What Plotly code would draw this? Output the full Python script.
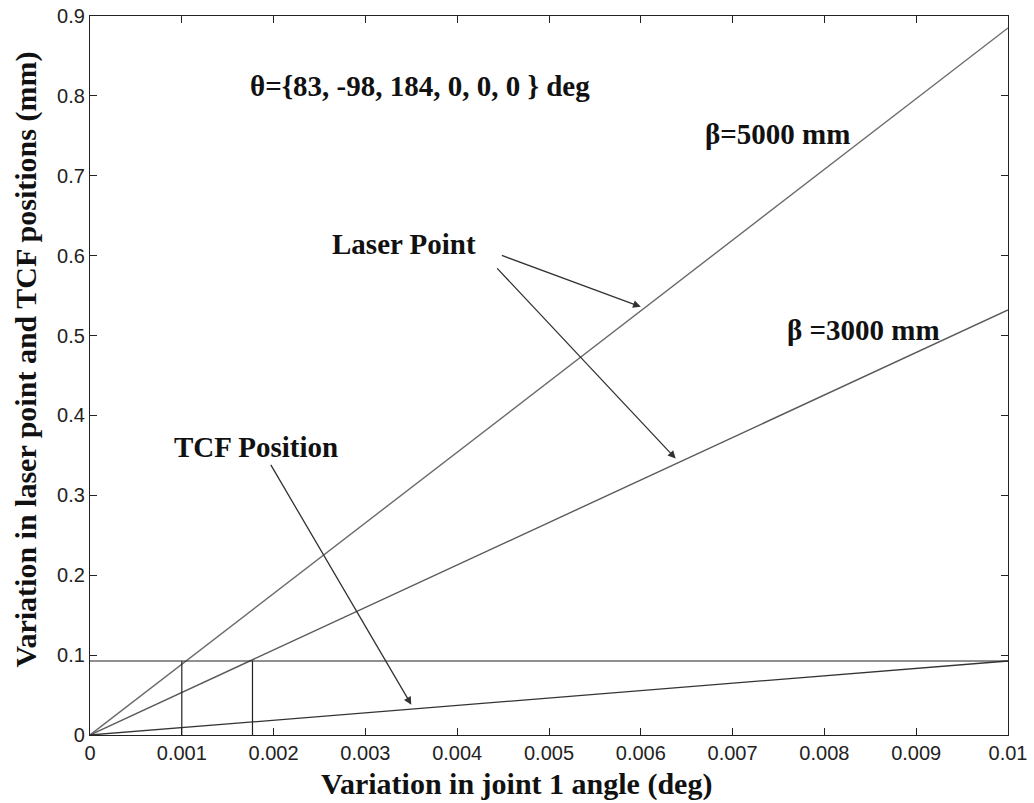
import plotly.graph_objects as go

# ---- data ----
x_ends = [0.0, 0.01]                 # joint-1 angle variation (deg)
laser_beta5000 = [0.0, 0.885]        # mm
laser_beta3000 = [0.0, 0.532]        # mm
tcf_position = [0.0, 0.0926]         # mm

ref_level = 0.0926                   # horizontal reference level (mm)
ref_x_marks = [0.001, 0.00177]       # vertical markers (deg)

x_ticks = [0, 0.001, 0.002, 0.003, 0.004, 0.005, 0.006, 0.007, 0.008, 0.009, 0.01]
x_tick_text = ["0", "0.001", "0.002", "0.003", "0.004", "0.005", "0.006", "0.007", "0.008", "0.009", "0.01"]
y_ticks = [0, 0.1, 0.2, 0.3, 0.4, 0.5, 0.6, 0.7, 0.8, 0.9]
y_tick_text = ["0", "0.1", "0.2", "0.3", "0.4", "0.5", "0.6", "0.7", "0.8", "0.9"]

fig = go.Figure()

fig.add_trace(go.Scatter(x=x_ends, y=laser_beta5000, mode="lines",
                         line=dict(color="#6a6a6a", width=1.4), showlegend=False))
fig.add_trace(go.Scatter(x=x_ends, y=laser_beta3000, mode="lines",
                         line=dict(color="#5a5a5a", width=1.4), showlegend=False))
fig.add_trace(go.Scatter(x=x_ends, y=tcf_position, mode="lines",
                         line=dict(color="#333333", width=1.3), showlegend=False))
# horizontal reference
fig.add_trace(go.Scatter(x=[x_ends[0], x_ends[1]], y=[ref_level, ref_level], mode="lines",
                         line=dict(color="#222222", width=1.2), showlegend=False))
# vertical markers
for xv in ref_x_marks:
    fig.add_trace(go.Scatter(x=[xv, xv], y=[0, ref_level], mode="lines",
                             line=dict(color="#222222", width=1.2), showlegend=False))

serif = "Liberation Serif, Times New Roman, serif"
ann_font = dict(family=serif, size=29, color="#111111")

texts = [
    ("<b>θ={83, -98, 184, 0, 0, 0 } deg</b>", 0.00172, 0.812),
    ("<b>β=5000 mm</b>", 0.00668, 0.752),
    ("<b>β =3000 mm</b>", 0.00757, 0.507),
    ("<b>Laser Point</b>", 0.00261, 0.615),
    ("<b>TCF Position</b>", 0.000893, 0.3605),
]
annotations = []
for t, xa, ya in texts:
    annotations.append(dict(text=t, x=xa, y=ya, xref="x", yref="y", xanchor="left",
                            yanchor="middle", showarrow=False, font=ann_font))

arrows = [
    # (tail x, tail y, head x, head y)
    (0.00447, 0.601, 0.00600, 0.536),
    (0.00442, 0.586, 0.00638, 0.346),
    (0.00196, 0.340, 0.00350, 0.038),
]
for tx, ty, hx, hy in arrows:
    annotations.append(dict(x=hx, y=hy, ax=tx, ay=ty, xref="x", yref="y",
                            axref="x", ayref="y", text="", showarrow=True,
                            arrowhead=2, arrowsize=1.2, arrowwidth=1.3,
                            arrowcolor="#333333"))

# axis titles
annotations.append(dict(text="<b>Variation in joint 1 angle (deg)</b>", x=0.465, y=0,
                        xref="paper", yref="paper", xanchor="center", yanchor="top",
                        yshift=-30, showarrow=False, font=dict(family=serif, size=30, color="#111")))
annotations.append(dict(text="<b>Variation in laser point and TCF positions (mm)</b>", x=0, y=0.5,
                        xref="paper", yref="paper", xanchor="right", yanchor="middle",
                        xshift=-46, yshift=16, textangle=-90, showarrow=False,
                        font=dict(family=serif, size=30, color="#111")))

tick_font = dict(family="Liberation Sans, Arial, sans-serif", size=20, color="#222222")

fig.update_layout(
    width=1034, height=803,
    margin=dict(l=90, r=26, t=16, b=68),
    paper_bgcolor="white", plot_bgcolor="white",
    annotations=annotations,
    xaxis=dict(range=[0, 0.01], tickmode="array", tickvals=x_ticks, ticktext=x_tick_text,
               showgrid=False, zeroline=False, showline=True, linecolor="#222", linewidth=1.2,
               mirror="allticks", ticks="inside", ticklen=7, tickcolor="#222",
               tickfont=tick_font, automargin=False),
    yaxis=dict(range=[0, 0.9], tickmode="array", tickvals=y_ticks, ticktext=y_tick_text,
               showgrid=False, zeroline=False, showline=True, linecolor="#222", linewidth=1.2,
               mirror="allticks", ticks="inside", ticklen=7, tickcolor="#222",
               tickfont=tick_font, automargin=False),
)

fig.write_html("out.html")
